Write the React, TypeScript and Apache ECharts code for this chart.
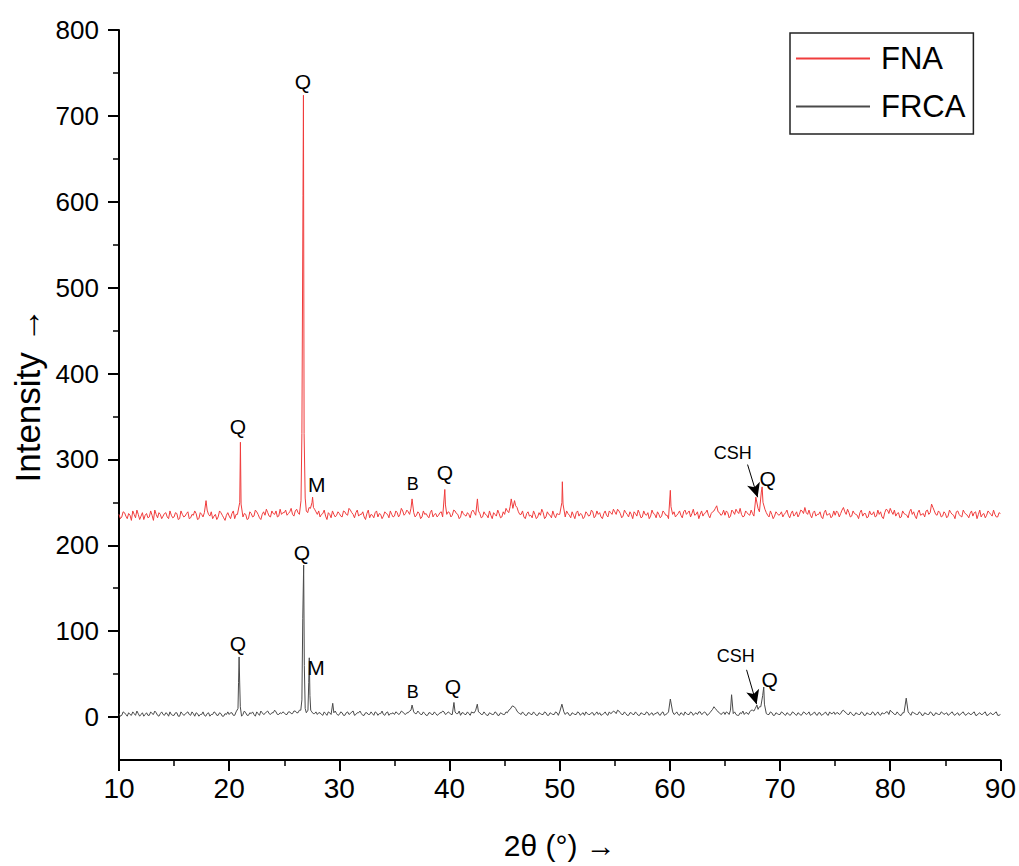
import React, { useEffect, useRef } from "react";
import * as echarts from "echarts";

// ---- data ----
const scanStart = 10;
const scanStep = 0.25;

// FNA intensities at 10°, 10.25°, ... 90°
const fnaBaseline: number[] = [
  236, 233, 238, 231, 235, 240, 232, 236, 234, 230, 237, 233, 235, 241, 232, 236, 234, 238, 231, 235,
  233, 237, 231, 236, 234, 239, 232, 235, 237, 231, 236, 238, 241, 234, 231, 236, 233, 238, 232, 235,
  234, 237, 231, 236, 238, 233, 236, 231, 237, 234, 239, 232, 236, 235, 238, 233, 237, 240, 234, 236,
  238, 235, 239, 236, 240, 238, 241, 243, 240, 244, 247, 242, 236, 233, 237, 234, 238, 232, 236, 235,
  237, 233, 239, 235, 241, 236, 238, 234, 236, 233, 237, 232, 235, 238, 233, 236, 234, 237, 232, 236,
  234, 238, 236, 240, 237, 239, 243, 238, 235, 237, 233, 236, 234, 238, 233, 237, 235, 239, 240, 236,
  238, 235, 240, 236, 233, 237, 234, 236, 239, 238, 244, 237, 233, 236, 232, 235, 238, 234, 237, 233,
  236, 240, 245, 243, 246, 239, 236, 233, 237, 234, 232, 236, 233, 235, 238, 233, 236, 232, 235, 237,
  236, 238, 233, 237, 232, 235, 238, 234, 236, 233, 237, 235, 239, 234, 236, 233, 237, 235, 240, 236,
  239, 242, 237, 234, 238, 233, 236, 239, 234, 237, 233, 236, 238, 234, 237, 232, 236, 234, 238, 235,
  238, 236, 233, 237, 235, 239, 236, 240, 237, 235, 239, 236, 234, 238, 235, 237, 240, 246, 238, 236,
  235, 238, 234, 239, 242, 237, 236, 234, 238, 235, 237, 240, 243, 247, 250, 238, 233, 236, 234, 237,
  236, 233, 238, 235, 237, 234, 239, 236, 240, 244, 236, 235, 238, 234, 236, 233, 238, 235, 237, 234,
  235, 238, 237, 244, 236, 238, 234, 237, 235, 238, 234, 237, 233, 236, 239, 234, 236, 233, 238, 241,
  243, 236, 234, 238, 233, 237, 235, 239, 236, 234, 238, 235, 237, 240, 236, 248, 240, 235, 238, 234,
  237, 234, 238, 235, 239, 236, 233, 238, 235, 237, 234, 239, 236, 233, 237, 235, 238, 234, 236, 233,
  237,
];

// FNA intensities at 10.125°, 10.375°, ... 89.875°
const fnaMidpoints: number[] = [
  231, 239, 234, 237, 229, 236, 241, 230, 238, 235, 232, 240, 229, 236, 238, 231, 237, 233, 240, 232,
  238, 230, 240, 233, 237, 231, 236, 240, 230, 238, 233, 245, 236, 239, 234, 230, 240, 235, 229, 238,
  231, 240, 236, 229, 243, 237, 230, 239, 233, 241, 236, 230, 239, 242, 234, 240, 236, 233, 242, 238,
  241, 237, 243, 234, 242, 236, 246, 240, 238, 243, 240, 239, 240, 236, 241, 230, 236, 240, 233, 239,
  234, 240, 236, 243, 238, 232, 241, 236, 239, 230, 241, 236, 232, 240, 237, 231, 239, 236, 240, 233,
  240, 233, 243, 235, 241, 236, 240, 233, 239, 231, 240, 237, 232, 241, 236, 233, 238, 233, 243, 239,
  233, 241, 237, 231, 240, 235, 238, 232, 241, 235, 240, 232, 239, 235, 240, 231, 236, 241, 232, 239,
  243, 238, 248, 241, 244, 236, 240, 231, 239, 235, 240, 231, 238, 242, 231, 239, 235, 240, 232, 236,
  241, 232, 240, 235, 239, 231, 240, 237, 231, 239, 234, 241, 232, 240, 238, 231, 240, 233, 238, 242,
  236, 240, 232, 241, 236, 239, 231, 237, 241, 232, 240, 235, 231, 241, 236, 239, 232, 240, 235, 231,
  241, 239, 235, 240, 232, 241, 238, 233, 242, 236, 231, 240, 237, 241, 232, 239, 243, 239, 235, 241,
  240, 232, 241, 236, 239, 243, 233, 240, 236, 241, 234, 245, 239, 244, 242, 235, 240, 231, 239, 235,
  239, 236, 241, 232, 240, 236, 233, 241, 237, 238, 241, 232, 240, 236, 239, 231, 241, 236, 232, 240,
  240, 233, 241, 239, 242, 233, 240, 236, 231, 241, 237, 232, 240, 236, 233, 241, 239, 231, 242, 237,
  239, 241, 237, 232, 240, 236, 232, 242, 239, 231, 241, 236, 233, 241, 238, 244, 236, 240, 233, 239,
  232, 241, 236, 231, 240, 234, 241, 236, 232, 240, 238, 231, 241, 236, 232, 240, 236, 241, 233, 238,
];

// FNA diffraction peaks [2θ, intensity]
const fnaPeaks: number[][] = [
  [17.9, 252],
  [20.96, 250], [21.02, 320], [21.08, 248],
  [26.52, 252], [26.6, 330], [26.7, 607], [26.74, 724], [26.8, 330], [26.9, 255],
  [27.52, 250], [27.57, 256], [27.65, 244],
  [36.6, 254],
  [39.57, 265], [39.63, 247],
  [42.53, 254],
  [45.6, 254], [45.9, 252],
  [50.2, 250], [50.24, 274], [50.3, 248],
  [60.04, 264], [60.1, 245],
  [67.8, 256],
  [68.3, 262], [68.37, 268], [68.45, 250],
];

// FRCA intensities at 10°, 10.25°, ... 90°
const frcaBaseline: number[] = [
  4, 2, 5, 1, 3, 6, 2, 4, 3, 1, 5, 2, 4, 7, 2, 4, 3, 5, 1, 3,
  2, 5, 1, 4, 3, 6, 2, 4, 5, 1, 3, 2, 4, 1, 3, 5, 2, 4, 1, 3,
  3, 5, 2, 4, 6, 3, 5, 2, 4, 3, 6, 2, 5, 4, 7, 3, 5, 6, 3, 4,
  5, 3, 6, 4, 7, 5, 8, 6, 5, 7, 6, 4, 3, 5, 2, 4, 6, 3, 5, 4,
  3, 5, 2, 6, 4, 7, 3, 5, 4, 2, 5, 3, 4, 6, 2, 4, 3, 5, 2, 4,
  3, 5, 4, 6, 3, 5, 8, 6, 4, 5, 3, 4, 2, 5, 3, 4, 3, 5, 6, 4,
  5, 3, 6, 4, 2, 5, 3, 4, 6, 5, 11, 5, 3, 4, 2, 4, 3, 5, 2, 4,
  3, 5, 9, 7, 10, 5, 3, 4, 2, 5, 3, 4, 2, 4, 3, 5, 2, 4, 3, 5,
  6, 4, 3, 5, 2, 4, 3, 5, 4, 2, 4, 3, 5, 4, 3, 2, 4, 3, 6, 5,
  6, 8, 5, 3, 4, 2, 5, 3, 4, 2, 4, 3, 5, 4, 2, 4, 3, 5, 2, 4,
  3, 6, 4, 3, 5, 2, 4, 3, 5, 4, 3, 6, 4, 5, 3, 7, 12, 8, 5, 4,
  3, 5, 8, 4, 3, 2, 4, 3, 5, 6, 8, 10, 9, 12, 8, 4, 3, 5, 2, 4,
  3, 5, 2, 4, 3, 5, 2, 4, 3, 5, 4, 2, 4, 3, 5, 2, 4, 3, 6, 4,
  3, 5, 4, 8, 5, 3, 4, 2, 4, 3, 5, 2, 4, 3, 5, 4, 3, 5, 4, 6,
  8, 5, 3, 4, 2, 5, 3, 4, 6, 4, 3, 5, 2, 4, 3, 5, 2, 4, 3, 5,
  4, 2, 5, 3, 4, 2, 5, 3, 4, 3, 5, 2, 4, 3, 5, 2, 4, 3, 5, 2,
  3,
];

// FRCA intensities at 10.125°, 10.375°, ... 89.875°
const frcaMidpoints: number[] = [
  1, 6, 3, 5, 2, 4, 7, 1, 5, 3, 2, 6, 3, 5, 1, 6, 2, 4, 6, 2,
  5, 1, 6, 2, 5, 3, 6, 1, 4, 3, 6, 1, 5, 3, 6, 2, 5, 1, 4, 6,
  5, 2, 6, 3, 1, 7, 2, 5, 6, 1, 4, 7, 3, 6, 4, 5, 8, 3, 5, 6,
  3, 6, 4, 7, 5, 8, 4, 7, 3, 9, 4, 6, 5, 3, 6, 2, 5, 4, 7, 2,
  6, 2, 5, 3, 6, 2, 5, 7, 2, 5, 3, 6, 2, 5, 4, 7, 2, 6, 4, 5,
  6, 3, 7, 4, 5, 7, 9, 4, 7, 3, 6, 2, 5, 3, 6, 2, 5, 7, 3, 6,
  3, 6, 4, 7, 5, 3, 6, 2, 5, 8, 6, 3, 6, 2, 5, 3, 6, 2, 5, 3,
  6, 8, 6, 12, 7, 4, 6, 2, 5, 3, 6, 2, 5, 3, 6, 2, 5, 3, 6, 2,
  3, 6, 5, 2, 5, 3, 6, 2, 5, 6, 3, 5, 2, 6, 5, 3, 6, 2, 4, 7,
  4, 7, 3, 6, 2, 5, 3, 6, 2, 5, 3, 6, 2, 5, 4, 6, 2, 6, 3, 6,
  5, 3, 6, 2, 4, 6, 3, 6, 2, 5, 6, 3, 6, 2, 5, 9, 10, 6, 3, 6,
  6, 3, 5, 6, 2, 5, 7, 5, 3, 8, 7, 9, 12, 10, 6, 3, 6, 2, 5, 3,
  6, 3, 5, 2, 6, 3, 5, 2, 6, 3, 6, 3, 6, 2, 5, 3, 6, 2, 4, 6,
  5, 3, 7, 6, 3, 6, 2, 5, 3, 6, 2, 5, 3, 6, 2, 6, 2, 4, 6, 3,
  6, 3, 6, 2, 5, 3, 6, 2, 5, 3, 6, 2, 5, 3, 6, 2, 5, 3, 6, 3,
  5, 3, 6, 2, 5, 3, 6, 2, 5, 3, 6, 2, 5, 3, 6, 2, 5, 3, 6, 2,
];

// FRCA diffraction peaks [2θ, intensity]
const frcaPeaks: number[][] = [
  [20.8, 10], [20.85, 40], [20.9, 70], [20.95, 42], [21.01, 12],
  [26.6, 20], [26.68, 115], [26.76, 177], [26.82, 60], [26.9, 10],
  [27.15, 8], [27.22, 40], [27.27, 69], [27.33, 25], [27.4, 8],
  [29.4, 16],
  [36.6, 14],
  [40.4, 17],
  [42.52, 15],
  [45.7, 13],
  [50.2, 15],
  [60.04, 21],
  [65.6, 26],
  [67.9, 14],
  [68.42, 25], [68.52, 35], [68.58, 15],
  [81.45, 22],
];

// phase annotations [text, 2θ, intensity]
const fnaLabels: [string, number, number][] = [
  ["Q", 20.8, 338], ["Q", 26.7, 740], ["M", 27.95, 271], ["B", 36.67, 271],
  ["Q", 39.57, 285], ["CSH", 65.7, 307], ["Q", 68.87, 278],
];
const frcaLabels: [string, number, number][] = [
  ["Q", 20.8, 86], ["Q", 26.6, 192], ["M", 27.87, 58], ["B", 36.67, 29],
  ["Q", 40.3, 36], ["CSH", 65.97, 71], ["Q", 69.05, 44],
];
const fnaArrow: number[][] = [[67.05, 294], [67.96, 256]];
const frcaArrow: number[][] = [[66.96, 55], [67.87, 15]];

const xTicks = { min: 10, max: 90, interval: 10 };
const yRange = { min: -50, max: 800 };
const yTickValues = [0, 100, 200, 300, 400, 500, 600, 700, 800];
const yMinorTickValues = [50, 150, 250, 350, 450, 550, 650, 750];

const seriesNames = ["FNA", "FRCA"];
const seriesColors = ["#f03c3c", "#4a4a4a"];

const FONT = "'Liberation Sans', Arial, sans-serif";

function buildPoints(base: number[], mids: number[], peaks: number[][]): number[][] {
  const grid = base
    .map((v, i) => [scanStart + i * scanStep, v])
    .concat(mids.map((v, i) => [scanStart + scanStep / 2 + i * scanStep, v]));
  // leave the scan points that fall inside a peak profile to the peak itself
  const kept = grid.filter((p) => !peaks.some((q) => Math.abs(q[0] - p[0]) < 0.09));
  return kept.concat(peaks).sort((a, b) => a[0] - b[0]);
}

function markPoints(labels: [string, number, number][]) {
  return {
    symbol: "circle",
    symbolSize: 1,
    silent: true,
    itemStyle: { color: "rgba(0,0,0,0)" },
    data: labels.map(([t, x, y]) => ({
      coord: [x, y],
      label: {
        show: true,
        position: "inside",
        formatter: t,
        color: "#000",
        fontFamily: FONT,
        fontSize: t === "Q" || t === "M" ? 21 : 18,
      },
    })),
  };
}

function markArrow(arrow: number[][]) {
  return {
    silent: true,
    symbol: ["none", "arrow"],
    symbolSize: [10, 14],
    label: { show: false },
    lineStyle: { color: "#000", width: 1, type: "solid" },
    data: [[{ coord: arrow[0] }, { coord: arrow[1] }]],
  };
}

export default function App() {
  const ref = useRef<HTMLDivElement>(null);
  useEffect(() => {
    if (!ref.current) return;
    const chart = echarts.init(ref.current, undefined, { renderer: "svg" });
    chart.setOption({
      animation: false,
      backgroundColor: "#fff",
      grid: { left: 119, right: 18, top: 30, bottom: 106, containLabel: false },
      legend: {
        data: seriesNames,
        orient: "vertical",
        left: 790,
        top: 33,
        itemWidth: 74,
        itemHeight: 14,
        itemGap: 17,
        padding: [10, 8, 12, 5],
        borderColor: "#222",
        borderWidth: 1.5,
        itemStyle: { opacity: 0 },
        textStyle: { fontSize: 31, color: "#000", fontFamily: FONT, padding: [0, 0, 0, 6] },
      },
      xAxis: {
        type: "value",
        min: xTicks.min,
        max: xTicks.max,
        interval: xTicks.interval,
        name: "2θ (°) →",
        nameLocation: "middle",
        nameGap: 70,
        nameTextStyle: { fontSize: 30, color: "#000", fontFamily: FONT },
        axisLine: { onZero: false, lineStyle: { color: "#000", width: 2 } },
        axisTick: { length: 11, lineStyle: { color: "#000", width: 2 } },
        minorTick: { show: true, splitNumber: 2, length: 6, lineStyle: { color: "#000", width: 1.5 } },
        splitLine: { show: false },
        axisLabel: { fontSize: 28, color: "#000", fontFamily: FONT, margin: 14 },
      },
      yAxis: [
        {
          type: "value",
          position: "left",
          min: yRange.min,
          max: yRange.max,
          name: "Intensity →",
          nameLocation: "middle",
          nameGap: 74,
          nameTextStyle: { fontSize: 35, color: "#000", fontFamily: FONT },
          axisLine: { show: true, onZero: false, lineStyle: { color: "#000", width: 2 } },
          axisTick: { show: true, length: 11, customValues: yTickValues, lineStyle: { color: "#000", width: 2 } },
          splitLine: { show: false },
          axisLabel: { customValues: yTickValues, fontSize: 26, color: "#000", fontFamily: FONT, margin: 20 },
        },
        {
          type: "value",
          position: "left",
          min: yRange.min,
          max: yRange.max,
          axisLine: { show: false, onZero: false },
          axisTick: { show: true, length: 6, customValues: yMinorTickValues, lineStyle: { color: "#000", width: 1.5 } },
          splitLine: { show: false },
          axisLabel: { show: false },
        },
      ],
      series: [
        {
          name: seriesNames[0],
          type: "line",
          yAxisIndex: 0,
          data: buildPoints(fnaBaseline, fnaMidpoints, fnaPeaks),
          symbol: "none",
          showSymbol: false,
          color: seriesColors[0],
          lineStyle: { color: seriesColors[0], width: 1 },
          markPoint: markPoints(fnaLabels),
          markLine: markArrow(fnaArrow),
        },
        {
          name: seriesNames[1],
          type: "line",
          yAxisIndex: 0,
          data: buildPoints(frcaBaseline, frcaMidpoints, frcaPeaks),
          symbol: "none",
          showSymbol: false,
          color: seriesColors[1],
          lineStyle: { color: seriesColors[1], width: 1 },
          markPoint: markPoints(frcaLabels),
          markLine: markArrow(frcaArrow),
        },
      ],
    });
    return () => chart.dispose();
  }, []);
  return (
    <div
      ref={ref}
      style={{ position: "fixed", left: 0, top: 0, width: 1019, height: 866, background: "#fff" }}
    />
  );
}
